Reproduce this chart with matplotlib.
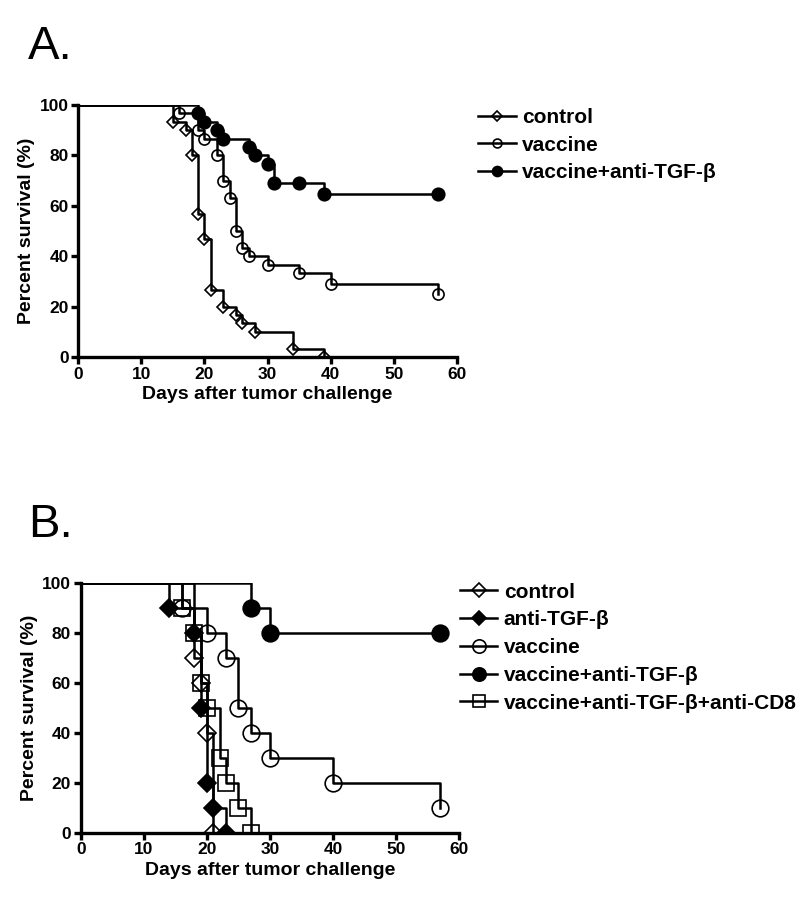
import matplotlib
matplotlib.use("Agg")
import matplotlib.pyplot as plt

plt.rcParams['font.family'] = ['Liberation Sans', 'DejaVu Sans']
plt.rcParams['font.weight'] = 'bold'

# panel A: days of each step and survival (%) after it
a_ctrl_days = [15, 17, 18, 19, 20, 21, 23, 25, 26, 28, 34, 39]
a_ctrl_surv = [93.3, 90, 80, 56.7, 46.7, 26.7, 20, 16.7, 13.3, 10, 3.3, 0]
a_vac_days = [16, 19, 20, 22, 23, 24, 25, 26, 27, 30, 35, 40, 57]
a_vac_surv = [96.7, 90, 86.7, 80, 70, 63.3, 50, 43.3, 40, 36.7, 33.3, 29, 25]
a_combo_days = [19, 20, 22, 23, 27, 28, 30, 31, 35, 39, 57]
a_combo_surv = [96.7, 93.3, 90, 86.7, 83.3, 80, 76.7, 69, 69, 64.7, 64.7]

# panel B
b_ctrl_days = [18, 19, 20, 21]
b_ctrl_surv = [70, 60, 40, 0]
b_anti_days = [14, 18, 19, 20, 21, 23]
b_anti_surv = [90, 80, 50, 20, 10, 0]
b_vac_days = [16, 20, 23, 25, 27, 30, 40, 57]
b_vac_surv = [90, 80, 70, 50, 40, 30, 20, 10]
b_combo_days = [27, 30, 57]
b_combo_surv = [90, 80, 80]
b_cd8_days = [16, 18, 19, 20, 22, 23, 25, 27]
b_cd8_surv = [90, 80, 60, 50, 30, 20, 10, 0]

x_ticks = [0, 10, 20, 30, 40, 50, 60]
y_ticks = [0, 20, 40, 60, 80, 100]


def km(ax, days, surv, marker, filled, ms, label):
    """draw one survival curve as steps, with a symbol at each point"""
    X = [0] + days
    Y = [100] + surv
    ax.step(X, Y, where='post', color='black', lw=1.8, zorder=2)
    fc = 'black' if filled else 'none'
    ax.plot(days, surv, ls='none', marker=marker, ms=ms, mfc=fc,
            mec='black', mew=1.2, zorder=3)
    # handle for the legend only
    ax.plot([], [], color='black', lw=1.8, marker=marker, ms=ms * 0.8,
            mfc=fc, mec='black', mew=1.2, label=label)


def style(ax):
    ax.set_xlim(0, 60)
    ax.set_ylim(0, 100)
    ax.set_xticks(x_ticks)
    ax.set_yticks(y_ticks)
    for s in ['top', 'right']:
        ax.spines[s].set_visible(False)
    for s in ['left', 'bottom']:
        ax.spines[s].set_linewidth(2.4)
        ax.spines[s].set_capstyle('projecting')
    ax.tick_params(direction='out', length=5, width=2.4, labelsize=12.5, pad=2)
    for t in ax.get_xticklabels() + ax.get_yticklabels():
        t.set_fontweight('bold')
    ax.set_xlabel('Days after tumor challenge', fontsize=14, fontweight='bold', labelpad=3)
    ax.set_ylabel('Percent survival (%)', fontsize=14, fontweight='bold', labelpad=3)


fig = plt.figure(figsize=(8, 9.06), dpi=100)

axA = fig.add_axes([0.0979, 0.606, 0.473, 0.278])
km(axA, a_ctrl_days, a_ctrl_surv, 'D', False, 6, 'control')
km(axA, a_vac_days, a_vac_surv, 'o', False, 8, 'vaccine')
km(axA, a_combo_days, a_combo_surv, 'o', True, 9, 'vaccine+anti-TGF-β')
style(axA)
axA.legend(loc='upper left', bbox_to_anchor=(0.598, 0.881), bbox_transform=fig.transFigure,
           frameon=False, fontsize=15, handlelength=1.8, handletextpad=0.3,
           labelspacing=0.42, borderpad=0, borderaxespad=0)
fig.text(0.035, 0.948, 'A.', fontsize=34, fontweight='normal', va='center', ha='left')

axB = fig.add_axes([0.101, 0.0809, 0.473, 0.276])
km(axB, b_ctrl_days, b_ctrl_surv, 'D', False, 9, 'control')
km(axB, b_anti_days, b_anti_surv, 'D', True, 9, 'anti-TGF-β')
km(axB, b_vac_days, b_vac_surv, 'o', False, 12, 'vaccine')
km(axB, b_combo_days, b_combo_surv, 'o', True, 12, 'vaccine+anti-TGF-β')
km(axB, b_cd8_days, b_cd8_surv, 's', False, 11, 'vaccine+anti-TGF-β+anti-CD8')
style(axB)
axB.legend(loc='upper left', bbox_to_anchor=(0.575, 0.357), bbox_transform=fig.transFigure,
           frameon=False, fontsize=15, handlelength=1.8, handletextpad=0.3,
           labelspacing=0.42, borderpad=0, borderaxespad=0)
fig.text(0.035, 0.42, 'B.', fontsize=34, fontweight='normal', va='center', ha='left')

fig.savefig('out.png', dpi=100)
